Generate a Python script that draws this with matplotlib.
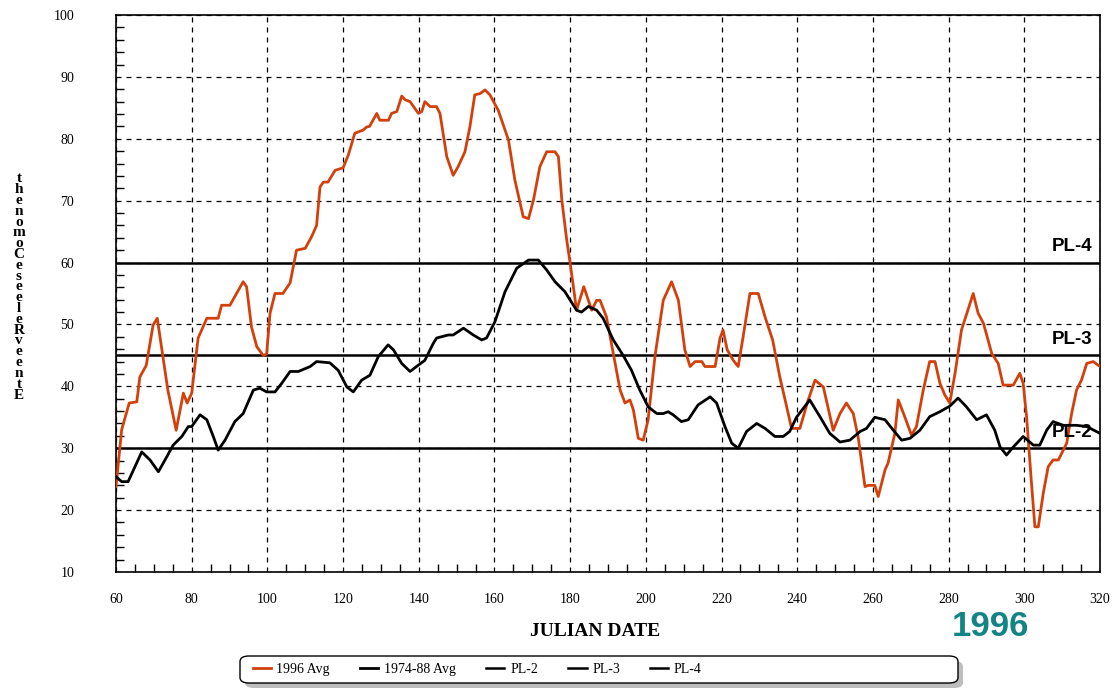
import matplotlib
matplotlib.use("Agg")
import matplotlib.pyplot as plt
from matplotlib.ticker import MultipleLocator
from matplotlib.patches import FancyBboxPatch

# 1996 Avg (orange)
x_1996 = [60, 61.5, 63.5, 65.5, 66.3, 68, 69.8, 70.9, 72, 73.7, 75.9, 77.8, 78.8, 80, 81.7,
          84, 87, 87.9, 90.1, 93.6, 94.5, 95.8, 97.2, 98.9, 99.8, 100.7, 102, 104.1, 106,
          107.7, 110, 111.7, 113, 113.9, 114.8, 116, 117.9, 120, 121.4, 123.1, 124, 125.3,
          126.2, 127, 128.9, 129.7, 132, 132.8, 134.2, 135.5, 136.4, 137.7, 139.9, 140.8,
          141.6, 143, 144.7, 145.6, 147.4, 149.1, 150.4, 152.2, 153.5, 154.8, 156.2, 157.5,
          158.8, 161, 163.7, 165.4, 167.6, 169, 170.3, 172, 173.8, 176, 176.9, 177.8, 179.1,
          180, 181.7, 183.6, 185.7, 187, 187.9, 189.6, 191.4, 193.2, 194.5, 195.8, 196.7,
          198, 199.3, 200.6, 202.4, 204.6, 206.8, 208.6, 210.3, 211.7, 213, 214.8, 215.6,
          218.3, 219.6, 220.4, 221.5, 223.1, 224.4, 225.7, 227.5, 229.7, 231.5, 233.5,
          235.4, 236.8, 238.5, 240.7, 242.9, 244.7, 246.9, 249.5, 251.3, 253, 254.8, 256.1,
          257.9, 258.8, 260.5, 261.4, 263.2, 264, 265.8, 266.7, 268.4, 270.2, 271.5, 273.3,
          275, 276.4, 277.7, 279, 280.3, 281.7, 283.4, 286.5, 287.8, 289.2, 291.4, 293.1,
          294.4, 297.1, 298.8, 299.7, 300.6, 301.9, 302.8, 303.7, 305, 306.3, 307.6, 309,
          311.2, 312.5, 313.8, 315.1, 316.5, 318.2, 320]
y_1996 = [23.8, 33, 37.3, 37.5, 41.5, 43.4, 49.9, 51, 46.4, 39.4, 32.9, 38.9, 37.3, 38.9, 47.8,
          51, 51, 53.1, 53.1, 56.9, 56.1, 49.6, 46.4, 45, 45.2, 51.8, 55, 55, 56.7,
          62, 62.3, 64.2, 66, 72.2, 73, 73, 74.9, 75.3, 77.4, 80.9, 81.1, 81.4,
          81.9, 82, 84.1, 83, 83, 84.1, 84.4, 86.9, 86.3, 86, 84.1, 84.4,
          86, 85.2, 85.2, 84.1, 77.1, 74.1, 75.5, 77.9, 81.9, 87.1, 87.3, 87.9,
          87.1, 84.6, 79.8, 73.3, 67.4, 67.1, 70.1, 75.5, 77.9, 77.9, 77.1, 70.1, 63.6,
          59.9, 52.3, 56.1, 52.3, 53.9, 53.9, 51.2, 45.3, 39.4, 37.3, 37.8, 36.2,
          31.6, 31.3, 34.6, 44.8, 53.9, 56.9, 53.9, 45.9, 43.2, 44, 44, 43.2,
          43.2, 47.8, 49.1, 45.9, 44.2, 43.2, 48, 55, 55, 51.2, 47.5,
          41.5, 37.8, 33.2, 33.2, 37.8, 41, 39.9, 32.9, 35.6, 37.3, 35.6, 31.8,
          23.8, 24, 24, 22.2, 26.5, 27.6, 32.4, 37.8, 35.1, 32.1, 33.5, 39.4,
          44, 44, 40.5, 38.6, 37.3, 42.1, 49.1, 55, 51.8, 50.2, 45.3, 43.7,
          40.2, 40.2, 42.1, 40.5, 35.1, 24.3, 17.3, 17.3, 22.7, 27, 28.1, 28.1,
          30.8, 35.6, 39.4, 41, 43.7, 44, 43.2]

# 1974-88 Avg (black)
x_hist = [60, 61.5, 63.2, 66.8, 69, 71.2, 73.4, 75.1, 77.4, 79.1, 80, 82.2, 84, 85.7, 87,
          88.8, 91.4, 93.6, 96.3, 98, 99.8, 102, 103.8, 106, 108.2, 111.3, 113, 114.8, 116.5,
          118.7, 121, 122.7, 124.9, 127.1, 129.3, 131.9, 133.3, 135.5, 137.7, 139.4, 141.6,
          143.8, 144.7, 147.8, 149.1, 151.8, 154.4, 156.6, 157.9, 160.1, 162.8, 165.9, 169,
          171.6, 173.8, 176, 178.6, 181.7, 183, 184.8, 187, 188.7, 191.4, 194, 196.2, 198.4,
          200.6, 202.9, 204.6, 205.9, 207.2, 209.4, 211.2, 213.8, 217, 218.7, 220.9, 222.7,
          224.4, 226.6, 229.3, 231.5, 234.1, 236.3, 238, 239.8, 243.3, 246, 248.6, 251.3,
          253.9, 256.6, 258.3, 260.5, 263.2, 265.4, 267.6, 269.8, 272.4, 275, 277.7, 280.3,
          282.5, 284.7, 287.4, 290, 292.2, 293.6, 295.3, 297.1, 299.7, 302.4, 304.1, 305.9,
          307.6, 310.3, 313.8, 316.5, 320]
y_hist = [25.4, 24.6, 24.6, 29.4, 28.1, 26.2, 28.6, 30.5, 31.9, 33.5, 33.5, 35.4, 34.6, 31.9, 29.7,
          31.3, 34.3, 35.6, 39.4, 39.7, 39.1, 39.1, 40.5, 42.4, 42.4, 43.2, 44, 43.9, 43.8,
          42.6, 39.9, 39.1, 41, 41.8, 44.8, 46.7, 45.9, 43.7, 42.4, 43.2, 44.2,
          46.9, 47.8, 48.3, 48.3, 49.4, 48.3, 47.5, 47.8, 50.4, 55.3, 59.1, 60.4,
          60.4, 58.8, 56.9, 55.3, 52.3, 52, 52.9, 52.3, 51, 47.5, 45, 42.6, 39.4,
          36.7, 35.6, 35.6, 35.9, 35.4, 34.3, 34.6, 37, 38.3, 37.3, 33.5, 30.8,
          30, 32.7, 34, 33.2, 31.9, 31.9, 32.7, 35, 37.8, 35.1, 32.4, 31,
          31.3, 32.7, 33.2, 35, 34.6, 32.9, 31.3, 31.6, 32.9, 35.1, 35.9, 36.8,
          38.1, 36.7, 34.6, 35.4, 32.9, 30.2, 28.9, 30.2, 31.9, 30.5, 30.5, 32.9,
          34.3, 33.7, 33.7, 33.5, 32.4]

pl_names = ["PL-2", "PL-3", "PL-4"]
pl_values = [30, 45, 60]
x_ticks = list(range(60, 321, 20))
y_ticks = list(range(10, 101, 10))
ylabel_chars = list("thenomoCeseeleRveentE")

ORANGE = "#d2400c"
W, H = 1116, 688
fig = plt.figure(figsize=(W / 100, H / 100), dpi=100)
ax = fig.add_axes([116 / W, 1 - 572 / H, 984 / W, 557 / H])

ax.plot(x_1996, y_1996, color=ORANGE, lw=2.0, label="1996 Avg", zorder=4)
ax.plot(x_hist, y_hist, color="black", lw=2.0, label="1974-88 Avg", zorder=4)
for name, v in zip(pl_names, pl_values):
    ax.axhline(v, color="black", lw=1.8, label=name, zorder=3)
    ax.text(318, v + 1.2, name, ha="right", va="bottom", fontsize=13.5,
            fontweight="bold", family="Liberation Sans", zorder=5)

ax.set_xlim(60, 320)
ax.set_ylim(10, 100)
ax.set_xticks(x_ticks)
ax.set_yticks(y_ticks)
ax.xaxis.set_minor_locator(MultipleLocator(5))
ax.yaxis.set_minor_locator(MultipleLocator(2))
ax.grid(True, which="major", color="black", ls=(0, (4, 4)), lw=0.9)
ax.tick_params(which="both", direction="in", color="black")
ax.tick_params(which="major", length=0, labelsize=10, labelfontfamily="Liberation Serif")
ax.tick_params(axis="y", which="major", pad=30)
ax.tick_params(axis="x", which="major", pad=15)
ax.tick_params(which="minor", length=6, width=1)
for s in ax.spines.values():
    s.set_linewidth(1.2)

fig.text(595 / W, 1 - 632 / H, "JULIAN DATE", ha="center", va="center",
         fontsize=14, fontweight="bold", family="Liberation Serif")
fig.text(990 / W, 1 - 627 / H, "1996", ha="center", va="center",
         fontsize=25, fontweight="bold", color="#138484", family="Liberation Sans")
fig.text(19 / W, 1 - 287 / H, "\n".join(ylabel_chars), ha="center", va="center",
         fontsize=11, fontweight="bold", family="Liberation Serif", linespacing=0.78)

# legend frame (rounded, with shadow)
x0, y0, x1, y1 = 240 / W, 1 - 683 / H, 958 / W, 1 - 656 / H
shadow = FancyBboxPatch((x0 + 5 / W, y0 - 5 / H), x1 - x0, y1 - y0,
                        boxstyle="round,pad=0,rounding_size=0.008",
                        transform=fig.transFigure, facecolor="#bdbdbd",
                        edgecolor="none", zorder=1)
frame = FancyBboxPatch((x0, y0), x1 - x0, y1 - y0,
                       boxstyle="round,pad=0,rounding_size=0.008",
                       transform=fig.transFigure, facecolor="white",
                       edgecolor="black", lw=1.0, zorder=2)
fig.patches.extend([shadow, frame])

leg = fig.legend(loc="center left", bbox_to_anchor=(243 / W, 1 - 669.5 / H), ncol=5,
                 frameon=False, handlelength=1.3, columnspacing=2.2,
                 handletextpad=0.4, borderpad=0.2,
                 prop={"family": "Liberation Serif", "size": 10})
leg.set_zorder(3)

fig.savefig("out.png", dpi=100)
